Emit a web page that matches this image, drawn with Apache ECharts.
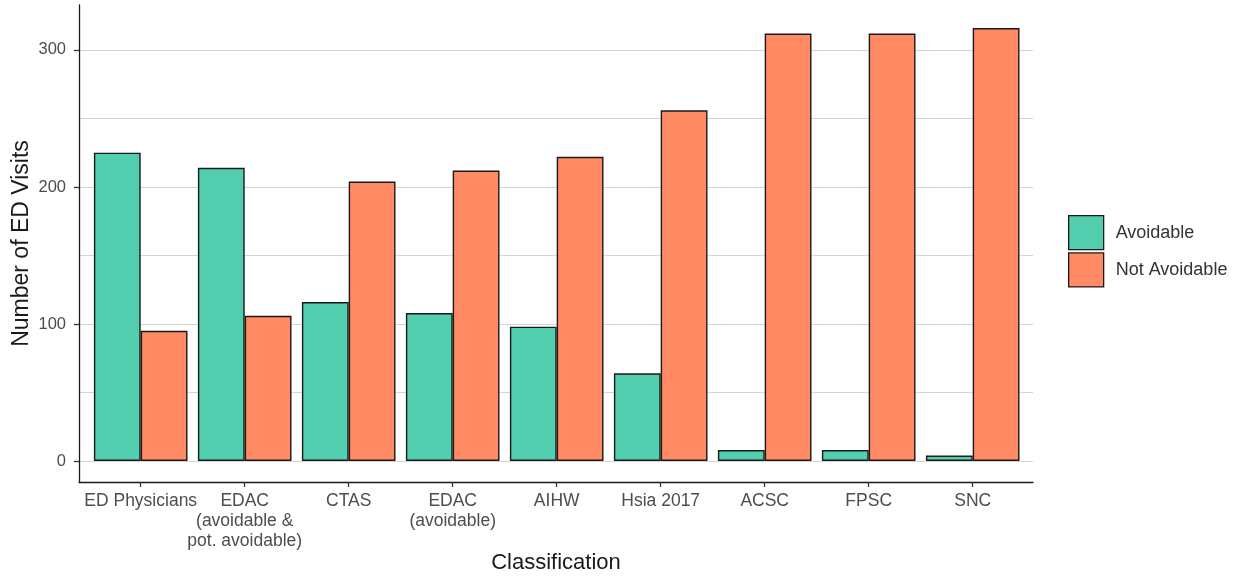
<!DOCTYPE html>
<html>
<head>
<meta charset="utf-8">
<script src="https://cdn.jsdelivr.net/npm/echarts@6/dist/echarts.min.js"></script>
<style>html,body{margin:0;padding:0;background:#fff}#c{width:1239px;height:579px}</style>
</head>
<body>
<div id="c"></div>
<script>
const categories = ['ED Physicians', 'EDAC\n(avoidable &\npot. avoidable)', 'CTAS', 'EDAC\n(avoidable)', 'AIHW', 'Hsia 2017', 'ACSC', 'FPSC', 'SNC'];
const avoidable = [225, 214, 116, 108, 98, 64, 8, 8, 4];
const notAvoidable = [95, 106, 204, 212, 222, 256, 312, 312, 316];
const yTickValues = [0, 100, 200, 300];
const seriesNames = ['Avoidable', 'Not Avoidable'];
const colors = ['#52CDAD', '#FF8A63'];
const yMax = 332.8;   // axis extent (ggplot expansion)
const yMin = -15.3;
const yTickMax = 300;

// layout
const plotTop = 5, zeroBottom = 118, frameBottom = 97;
const plotH = 579 - zeroBottom - plotTop;
const tickGridTop = plotTop + plotH * (yMax - yTickMax) / yMax;

const font = 'Liberation Sans, Arial, Helvetica, sans-serif';
const chart = echarts.init(document.getElementById('c'));
chart.setOption({
  animation: false,
  backgroundColor: '#fff',
  textStyle: { fontFamily: font },
  grid: [
    { left: 79, right: 206, top: plotTop, bottom: frameBottom },
    { left: 79, right: 206, top: tickGridTop, bottom: zeroBottom },
    { left: 79, right: 206, top: tickGridTop, bottom: zeroBottom },
    { left: 88.7, right: 214.3, top: plotTop, bottom: zeroBottom }
  ],
  xAxis: [
    { gridIndex: 0, type: 'value', min: 0, max: 1,
      axisLine: { show: true, onZero: false, lineStyle: { color: '#1a1a1a', width: 1.3 } },
      axisTick: { show: false }, axisLabel: { show: false }, splitLine: { show: false },
      name: 'Classification', nameLocation: 'middle', nameGap: 70,
      nameTextStyle: { fontSize: 22, color: '#1a1a1a', fontFamily: font } },
    { gridIndex: 1, type: 'value', min: 0, max: 1, show: false },
    { gridIndex: 2, type: 'value', min: 0, max: 1, show: false },
    { gridIndex: 3, type: 'category', data: categories, offset: 21,
      axisLine: { show: false, onZero: false },
      axisTick: { show: true, alignWithLabel: true, length: 5, lineStyle: { color: '#333', width: 1.3 } },
      axisLabel: { color: '#4d4d4d', fontSize: 17.5, lineHeight: 20, margin: 9, interval: 0, fontFamily: font },
      splitLine: { show: false } }
  ],
  yAxis: [
    { gridIndex: 0, type: 'value', min: yMin, max: yMax,
      axisLine: { show: true, onZero: false, lineStyle: { color: '#1a1a1a', width: 1.3 } },
      axisTick: { show: false }, axisLabel: { show: false }, splitLine: { show: false },
      name: 'Number of ED Visits', nameLocation: 'middle', nameGap: 46,
      nameTextStyle: { fontSize: 23, color: '#1a1a1a', fontFamily: font } },
    { gridIndex: 1, type: 'value', min: 0, max: yTickMax, interval: 50,
      axisLine: { show: false }, axisTick: { show: false }, axisLabel: { show: false },
      splitLine: { show: true, lineStyle: { color: '#d4d4d4', width: 1.2 } } },
    { gridIndex: 2, type: 'value', min: 0, max: yTickMax, interval: 100,
      axisLine: { show: false },
      axisTick: { show: true, length: 5, lineStyle: { color: '#333', width: 1.3 } },
      axisLabel: { show: true, color: '#4d4d4d', fontSize: 16.5, margin: 13, fontFamily: font },
      splitLine: { show: false } },
    { gridIndex: 3, type: 'value', min: 0, max: yMax, show: false }
  ],
  legend: {
    orient: 'vertical', left: 1068, top: 215, padding: 0,
    itemWidth: 35, itemHeight: 34, itemGap: 2,
    icon: 'rect',
    itemStyle: { borderColor: '#1a1a1a', borderWidth: 1.3 },
    textStyle: { fontSize: 18, color: '#333', padding: [3, 0, 0, 7], fontFamily: font },
    data: seriesNames
  },
  series: [
    { name: seriesNames[0], type: 'bar', xAxisIndex: 3, yAxisIndex: 3, data: avoidable,
      barCategoryGap: '10%', barGap: '0%',
      itemStyle: { color: colors[0], borderColor: '#1a1a1a', borderWidth: 1.4 } },
    { name: seriesNames[1], type: 'bar', xAxisIndex: 3, yAxisIndex: 3, data: notAvoidable,
      barCategoryGap: '10%', barGap: '0%',
      itemStyle: { color: colors[1], borderColor: '#1a1a1a', borderWidth: 1.4 } }
  ]
});
</script>
</body>
</html>
